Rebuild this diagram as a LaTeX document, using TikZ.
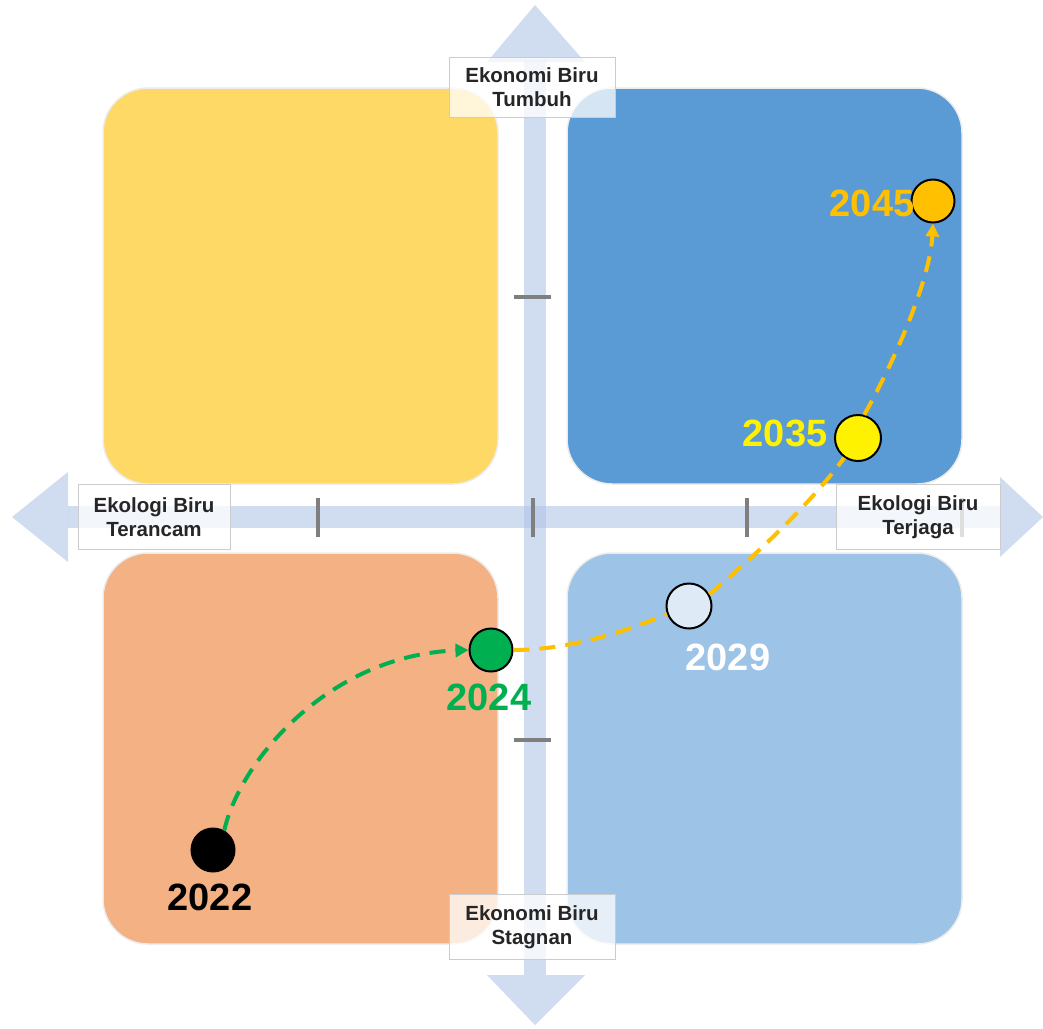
\documentclass[tikz,border=0pt]{standalone}
\usepackage{fontspec}
\setmainfont{Liberation Sans}
\usetikzlibrary{arrows.meta}
\definecolor{qyellow}{HTML}{FFD966}
\definecolor{qblue}{HTML}{5B9BD5}
\definecolor{qorange}{HTML}{F4B183}
\definecolor{qlight}{HTML}{9DC3E6}
\definecolor{axiscol}{HTML}{B4C7E7}
\definecolor{tickcol}{HTML}{7F7F7F}
\definecolor{ggreen}{HTML}{00B050}
\definecolor{gyellow}{HTML}{FFC000}
\definecolor{c29}{HTML}{DEEBF7}
\tikzset{
  quad/.style={draw=white!85!gray, line width=1.5pt, rounded corners=45pt},
  axisshape/.style={fill=axiscol, fill opacity=0.62, draw=none},
  tickmark/.style={draw=tickcol, line width=4.5pt},
  lbox/.style={draw=gray!40, line width=0.8pt, fill=white, fill opacity=0.75, text opacity=1,
    align=center, font=\bfseries\fontsize{20.5}{24}\selectfont, text=black!85,
    inner sep=0pt},
  yr/.style={circle, draw=black, line width=2pt, minimum size=43pt, inner sep=0pt},
  ylab/.style={font=\bfseries\fontsize{38}{40}\selectfont, inner sep=0pt},
  gpath/.style={draw=ggreen, line width=4pt, dash pattern=on 16pt off 10pt},
  ypath/.style={draw=gyellow, line width=4pt, dash pattern=on 16pt off 10pt},
}
\begin{document}
\begin{tikzpicture}[x=1pt,y=-1pt]
\useasboundingbox (0,0) rectangle (1043,1028);
\fill[white] (0,0) rectangle (1043,1028);
% quadrants
\path[quad, fill=qyellow] (103,88) rectangle (498,484);
\path[quad, fill=qblue] (567,88) rectangle (962,484);
\path[quad, fill=qorange] (103,553) rectangle (498,944);
\path[quad, fill=qlight] (567,553) rectangle (962,944);
% axes
\path[axisshape] (524,60) rectangle (546,975);
\path[axisshape] (535,5) -- (585,62) -- (487,62) -- cycle;
\path[axisshape] (535,1025) -- (585,975) -- (487,975) -- cycle;
\path[axisshape] (68,506) rectangle (1000,528);
\path[axisshape] (12,517) -- (68,472) -- (68,562) -- cycle;
\path[axisshape] (1043,517) -- (1000,477) -- (1000,557) -- cycle;
% ticks
\draw[tickmark] (318,498) -- (318,537);
\draw[tickmark] (533,498) -- (533,537);
\draw[tickmark] (747,498) -- (747,537);
\draw[tickmark] (962,498) -- (962,537);
\draw[tickmark] (514,297) -- (551,297);
\draw[tickmark] (514,740) -- (551,740);
% label boxes
\node[lbox, minimum width=166pt, minimum height=60pt] (top) at (532,87) {Ekonomi Biru\\Tumbuh};
\node[lbox, minimum width=152pt, minimum height=65pt] (left) at (154,517) {Ekologi Biru\\Terancam};
\node[lbox, minimum width=164pt, minimum height=65pt] (right) at (918,517) {Ekologi Biru\\Terjaga};
\node[lbox, minimum width=166pt, minimum height=65pt] (bottom) at (532,927) {Ekonomi Biru\\Stagnan};
% year circles
\node[yr, fill=black] (c2022) at (213,850) {};
\node[yr, fill=ggreen] (c2024) at (491,650) {};
\node[yr, fill=c29, minimum size=45pt] (c2029) at (689,606) {};
\node[yr, fill=yellow, minimum size=46pt] (c2035) at (858,438) {};
\node[yr, fill=gyellow] (c2045) at (933,201) {};
% year labels
\node[ylab, text=black] (l2022) at (210,897) {2022};
\node[ylab, text=ggreen] (l2024) at (489,697) {2024};
\node[ylab, text=white] (l2029) at (728,657) {2029};
\node[ylab, text=yellow] (l2035) at (785,433) {2035};
\node[ylab, text=gyellow] (l2045) at (872,203) {2045};
% connectors
\draw[gpath, -{Triangle[length=13pt,width=13pt]}] (c2022.60) .. controls (240,760) and (330,655) .. (c2024.west);
\draw[ypath] (c2024.east) .. controls (570,650) and (630,630) .. (c2029.200);
\draw[ypath] (c2029.30) .. controls (750,560) and (810,505) .. (c2035.235);
\draw[ypath, -{Triangle[length=13pt,width=13pt]}] (c2035.75) .. controls (895,360) and (930,280) .. (c2045.south);
\end{tikzpicture}
\end{document}
